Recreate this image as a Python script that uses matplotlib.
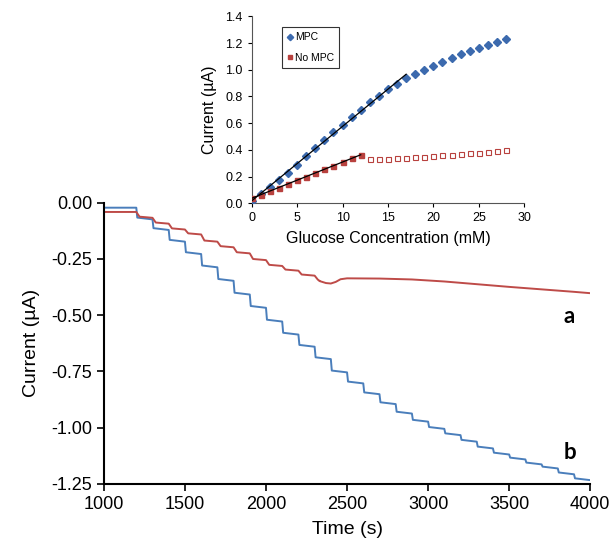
"""Amperometric response with calibration inset."""
import matplotlib
matplotlib.use("Agg")
import matplotlib.pyplot as plt
import numpy as np

plt.rcParams["font.family"] = ["Liberation Sans", "DejaVu Sans"]

# --- main trace data (time in s, current in uA) ---
t_start, t_end = 1000, 4000
step_times = [1200, 1300, 1400, 1500, 1600, 1700, 1800, 1900, 2000, 2100,
              2200, 2300, 2400, 2500, 2600, 2700, 2800, 2900, 3000, 3100,
              3200, 3300, 3400, 3500, 3600, 3700, 3800, 3900]

# curve b (with MPC): baseline then level after each addition
b_base = -0.022
b_levels = [-0.066, -0.113, -0.165, -0.220, -0.279, -0.339, -0.400, -0.459,
            -0.520, -0.578, -0.632, -0.687, -0.746, -0.795, -0.843, -0.887,
            -0.929, -0.965, -0.997, -1.025, -1.054, -1.084, -1.111, -1.133,
            -1.155, -1.173, -1.199, -1.225]

# curve a (no MPC): steps up to 2300 s, then a slow drift
a_base = -0.041
a_levels = [-0.062, -0.088, -0.114, -0.136, -0.168, -0.193, -0.220, -0.250,
            -0.276, -0.297, -0.319, -0.342]
a_tail_t = [2330, 2370, 2400, 2430, 2460, 2500, 2700, 2900, 3100, 3300,
            3500, 3700, 3900, 4000]
a_tail_i = [-0.348, -0.357, -0.359, -0.352, -0.340, -0.336, -0.337, -0.341,
            -0.350, -0.362, -0.374, -0.385, -0.396, -0.402]

# --- inset calibration data ---
conc = list(range(29))
mpc = [0.02, 0.07, 0.12, 0.175, 0.23, 0.29, 0.355, 0.415, 0.475, 0.535,
       0.59, 0.645, 0.70, 0.755, 0.805, 0.855, 0.895, 0.935, 0.97, 1.0,
       1.03, 1.06, 1.09, 1.115, 1.14, 1.165, 1.185, 1.21, 1.23]
no_mpc = [0.04, 0.065, 0.09, 0.115, 0.145, 0.175, 0.20, 0.23, 0.255, 0.28,
          0.31, 0.34, 0.36, 0.335, 0.335, 0.335, 0.34, 0.34, 0.345, 0.35,
          0.355, 0.36, 0.365, 0.37, 0.375, 0.38, 0.385, 0.39, 0.40]
mpc_fit_n = 18      # points 0..17 used for the linear fit
no_mpc_fit_n = 13   # points 0..12

BLUE = "#4A7EBB"
RED = "#BE4B48"
MK_BLUE = "#3C6AAE"
MK_RED = "#B8413E"


def stairs(times, levels, base, t0, t1, ramp=6, drift=0.008):
    # flat baseline, then each plateau sags a little before the next addition
    xs, ys = [t0], [base]
    prev, sag = base, 0.0
    for t, lv in zip(times, levels):
        xs += [t, t + ramp]
        ys += [prev - sag, lv]
        prev, sag = lv, drift
    xs.append(t1)
    ys.append(prev - sag)
    return np.array(xs), np.array(ys)


fig = plt.figure(figsize=(6.11, 5.45), dpi=100)
ax = fig.add_axes([0.170, 0.112, 0.796, 0.516])

bx, by = stairs(step_times, b_levels, b_base, t_start, t_end)
ax.plot(bx, by, color=BLUE, lw=1.4)

ax_t, ay = stairs(step_times[:len(a_levels)], a_levels, a_base, t_start,
                  a_tail_t[0], ramp=20, drift=0.005)
ax_t = np.concatenate([ax_t, a_tail_t])
ay = np.concatenate([ay, a_tail_i])
ax.plot(ax_t, ay, color=RED, lw=1.4)

ax.set_xlim(t_start, t_end)
ax.set_ylim(-1.25, 0.0)
ax.set_xticks(np.arange(1000, 4001, 500))
ax.set_yticks([0.0, -0.25, -0.5, -0.75, -1.0, -1.25])
ax.set_yticklabels(["0.00", "-0.25", "-0.50", "-0.75", "-1.00", "-1.25"])
ax.tick_params(labelsize=13, length=5, width=1.2, direction="out")
for s in ("top", "right"):
    ax.spines[s].set_visible(False)
for s in ("left", "bottom"):
    ax.spines[s].set_linewidth(1.5)
ax.set_xlabel("Time (s)", fontsize=14, labelpad=6)
ax.set_ylabel("Current (µA)", fontsize=14, labelpad=8)

ax.text(3870, -0.507, "a", fontsize=16, fontweight="bold", family="Lato",
        ha="center", va="center")
ax.text(3877, -1.108, "b", fontsize=16, fontweight="bold", family="Lato",
        ha="center", va="center")

# --- inset ---
ins = fig.add_axes([0.412, 0.627, 0.446, 0.343])
x = np.array(conc)
ins.plot(x, mpc, ls="none", marker="D", ms=3.6, color=MK_BLUE, label="MPC",
         zorder=3)
ins.plot(x[:no_mpc_fit_n], no_mpc[:no_mpc_fit_n], ls="none", marker="s",
         ms=3.6, color=MK_RED, label="No MPC", zorder=3)
ins.plot(x[no_mpc_fit_n:], no_mpc[no_mpc_fit_n:], ls="none", marker="s",
         ms=3.6, mfc="white", mec=MK_RED, mew=0.8, zorder=3)

k1 = np.polyfit(x[:mpc_fit_n], mpc[:mpc_fit_n], 1)
xf1 = np.array([0, mpc_fit_n - 1])
ins.plot(xf1, np.polyval(k1, xf1), color="black", lw=0.9, zorder=4)
k2 = np.polyfit(x[:no_mpc_fit_n], no_mpc[:no_mpc_fit_n], 1)
xf2 = np.array([0, no_mpc_fit_n - 1])
ins.plot(xf2, np.polyval(k2, xf2), color="black", lw=0.9, zorder=4)

ins.set_xlim(0, 30)
ins.set_ylim(0, 1.4)
ins.set_xticks(np.arange(0, 31, 5))
ins.set_yticks(np.arange(0, 1.41, 0.2))
ins.set_yticklabels([f"{v:.1f}" for v in np.arange(0, 1.41, 0.2)])
ins.tick_params(labelsize=9, length=3, width=0.8, direction="out")
ins.patch.set_alpha(0)
for s in ("top", "right"):
    ins.spines[s].set_visible(False)
for s in ("left", "bottom"):
    ins.spines[s].set_color("#555555")
ins.set_xlabel("Glucose Concentration (mM)", fontsize=11.5, labelpad=5)
ins.set_ylabel("Current (µA)", fontsize=11.5, labelpad=6)

leg = ins.legend(loc="upper left", bbox_to_anchor=(0.111, 0.943),
                 borderaxespad=0, fontsize=7.5, frameon=True, fancybox=False,
                 handlelength=0.5, handletextpad=0.25, borderpad=0.5,
                 labelspacing=1.0, markerscale=0.9)
leg.get_frame().set_edgecolor("black")
leg.get_frame().set_linewidth(0.8)

fig.savefig("out.png", dpi=100)
